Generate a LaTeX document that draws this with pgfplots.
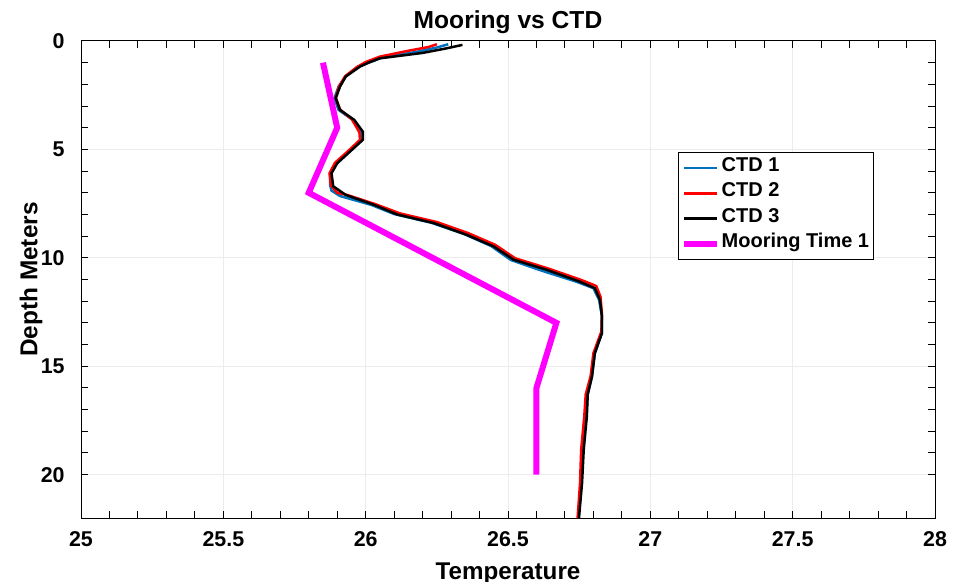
\documentclass[border=0pt]{standalone}
\usepackage{pgfplots}
\pgfplotsset{compat=1.18}
\usepackage{fontspec}
\setmainfont{Liberation Sans}
\definecolor{mblue}{rgb}{0,0.447,0.741}
\definecolor{mmag}{rgb}{1,0,1}
\begin{document}
\begin{tikzpicture}
\path[use as bounding box] (0,0) rectangle (484pt,291pt);
\begin{axis}[
  at={(40.5pt,32pt)}, anchor=south west,
  scale only axis, width=427pt, height=238.5pt,
  xmin=25, xmax=28, ymin=0, ymax=22,
  y dir=reverse,
  xtick={25,25.5,...,28}, ytick={0,5,10,15,20},
  minor x tick num=4, minor y tick num=4,
  major tick length=3.3pt, minor tick length=3.3pt,
  tick style={black, line width=0.5pt},
  axis line style={line width=0.5pt},
  grid=major, major grid style={gray!15, line width=0.5pt},
  /pgf/number format/assume math mode=true,
  tick label style={font=\fontsize{10.7}{12}\selectfont\bfseries},
  xticklabel style={anchor=north, inner sep=0pt, yshift=-6.5pt},
  yticklabel style={anchor=east, inner sep=0pt, xshift=-8pt},
  every axis title shift=0pt,
  title={Mooring vs CTD},
  title style={at={(axis description cs:0.5,1.0266)}, anchor=base, yshift=0pt, inner sep=0pt, font=\fontsize{12.3}{14}\selectfont\bfseries},
  xlabel={Temperature},
  xlabel style={at={(axis description cs:0.5,-0.128)}, anchor=base, inner sep=0pt, font=\fontsize{12.1}{14}\selectfont\bfseries},
  ylabel={Depth Meters},
  ylabel style={at={(axis description cs:-0.051,0.5)}, anchor=base, inner sep=0pt, font=\fontsize{12.2}{14}\selectfont\bfseries},
  legend style={at={(axis description cs:0.699,0.767)}, anchor=north west,
    font=\fontsize{10}{12}\selectfont\bfseries, draw=black, line width=0.5pt,
    inner xsep=1.5pt, inner ysep=1.5pt, row sep=0pt,
    nodes={inner ysep=0pt, inner xsep=0.6pt, text height=8pt, text depth=4.6pt}},
  legend cell align=left,
  legend image code/.code={\draw[#1] (0pt,0pt) -- (16.5pt,0pt);},
]
\addplot[mblue, line width=1.25pt] coordinates {
(26.29,0.15) (26.25,0.3) (26.18,0.5) (26.06,0.75) (26.01,1.0) (25.97,1.2) (25.93,1.64) (25.905,2.1) (25.89,2.64) (25.905,3.18) (25.955,3.64) (25.985,4.18) (25.985,4.56) (25.94,5.1) (25.895,5.64) (25.875,6.1) (25.875,6.64) (25.88,6.9) (25.91,7.15) (26.02,7.56) (26.1,7.98) (26.23,8.38) (26.345,8.9) (26.44,9.45) (26.51,10.1) (26.62,10.6) (26.74,11.1) (26.8,11.4) (26.82,11.94) (26.83,12.7) (26.83,13.47) (26.805,14.4) (26.795,15.47) (26.78,16.3) (26.775,17.3) (26.763,18.85) (26.757,20.4) (26.748,21.9) (26.748,22)
};
\addlegendentry{CTD 1}
\addplot[red, line width=1.25pt] coordinates {
(26.25,0.15) (26.22,0.28) (26.15,0.45) (26.05,0.72) (26.0,0.97) (25.97,1.2) (25.928,1.62) (25.906,2.1) (25.895,2.62) (25.91,3.16) (25.952,3.62) (25.978,4.22) (25.98,4.56) (25.938,5.08) (25.892,5.62) (25.873,6.1) (25.878,6.66) (25.9,7.0) (25.935,7.1) (26.035,7.53) (26.12,7.95) (26.25,8.35) (26.36,8.86) (26.455,9.4) (26.525,10.02) (26.643,10.5) (26.757,11.02) (26.81,11.3) (26.825,11.8) (26.83,12.6) (26.828,13.4) (26.8,14.4) (26.79,15.47) (26.773,16.3) (26.768,17.3) (26.757,18.85) (26.753,20.4) (26.745,21.9) (26.745,22)
};
\addlegendentry{CTD 2}
\addplot[black, line width=1.25pt] coordinates {
(26.34,0.18) (26.28,0.35) (26.2,0.55) (26.05,0.8) (26.01,1.0) (25.98,1.18) (25.93,1.64) (25.91,2.1) (25.895,2.64) (25.91,3.18) (25.96,3.64) (25.99,4.18) (25.99,4.56) (25.945,5.1) (25.9,5.64) (25.88,6.1) (25.886,6.7) (25.93,7.1) (26.03,7.56) (26.11,8.0) (26.24,8.4) (26.355,8.94) (26.45,9.48) (26.52,10.09) (26.635,10.55) (26.75,11.09) (26.805,11.4) (26.823,11.94) (26.83,12.7) (26.83,13.47) (26.805,14.4) (26.795,15.47) (26.78,16.3) (26.777,17.3) (26.766,18.85) (26.76,20.4) (26.75,21.9) (26.75,22)
};
\addlegendentry{CTD 3}
\addplot[mmag, line width=3pt] coordinates {
(25.85,1) (25.9,4) (25.8,7) (26.67,13) (26.6,16) (26.6,20)
};
\addlegendentry{Mooring Time 1}
\end{axis}
\end{tikzpicture}
\end{document}
